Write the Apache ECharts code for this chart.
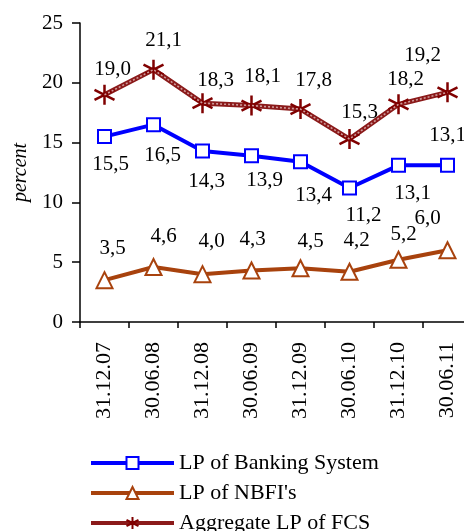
<!DOCTYPE html>
<html>
  <head>
    <meta charset="utf-8" />
    <title>Liquidity ratios</title>
    <script src="https://cdnjs.cloudflare.com/ajax/libs/echarts/6.0.0/echarts.min.js"></script>
  </head>
  <body>
    <style>
      html, body { margin: 0; padding: 0; background: #fff; }
      #main { width: 464px; height: 531px; }
    </style>
    <div id="main"></div>
    <script type="text/javascript">
      // data
      var dates = ['31.12.07', '30.06.08', '31.12.08', '30.06.09', '31.12.09', '30.06.10', '31.12.10', '30.06.11'];
      var banking = [15.5, 16.5, 14.3, 13.9, 13.4, 11.2, 13.1, 13.1];
      var nbfi = [3.5, 4.6, 4.0, 4.3, 4.5, 4.2, 5.2, 6.0];
      var fcs = [19.0, 21.1, 18.3, 18.1, 17.8, 15.3, 18.2, 19.2];
      var yTicks = [0, 5, 10, 15, 20, 25];

      // label offsets (layout only)
      var bankOff = [[6, 28], [9, 31], [4, 31], [13, 25], [13, 34], [14, 27], [14, 28], [0, -30]];
      var nbfiOff = [[8, -32], [10, -30], [9, -33], [1, -31], [10, -27], [7, -31], [5, -25], [-20, -32]];
      var fcsOff = [[8, -25], [10, -29], [13, -23], [11, -29], [13, -29], [10, -27], [7, -25], [-25, -37]];

      var FONT = '"Liberation Serif", "Times New Roman", serif';

      function fmt(p) {
        return p.value.toFixed(1).replace('.', ',');
      }

      function withLabels(values, offs) {
        return values.map(function (v, i) {
          return { value: v, label: { offset: offs[i] } };
        });
      }

      var labelBase = {
        show: true,
        position: 'inside',
        formatter: fmt,
        color: '#000',
        fontFamily: FONT,
        fontSize: 21
      };

      var chart = echarts.init(document.getElementById('main'));
      var option = {
        animation: false,
        backgroundColor: '#fff',
        grid: {
          left: 80, right: -8, top: 23, bottom: 209,
          containLabel: false,
          outerBoundsMode: 'none'
        },
        legend: {
          data: ['LP of Banking System', "LP of NBFI's", 'Aggregate LP of FCS'],
          orient: 'vertical',
          left: 84,
          top: 447,
          height: 90,
          itemWidth: 83,
          itemHeight: 15,
          itemGap: 8,
          lineStyle: { width: 4 },
          textStyle: { color: '#000', fontFamily: FONT, fontSize: 22 }
        },
        xAxis: {
          type: 'category',
          data: dates,
          axisLine: { lineStyle: { color: '#000', width: 1.5 } },
          axisTick: { show: true, length: 6, lineStyle: { color: '#000', width: 1.5 } },
          axisLabel: {
            rotate: 90,
            margin: 20,
            color: '#000',
            fontFamily: FONT,
            fontSize: 22,
            interval: 0
          }
        },
        yAxis: {
          type: 'value',
          min: yTicks[0],
          max: yTicks[yTicks.length - 1],
          interval: 5,
          name: 'percent',
          nameLocation: 'middle',
          nameGap: 48,
          nameTextStyle: { color: '#000', fontFamily: FONT, fontSize: 20, fontStyle: 'italic' },
          splitLine: { show: false },
          axisLine: { show: true, lineStyle: { color: '#000', width: 1.5 } },
          axisTick: { show: true, length: 8, lineStyle: { color: '#000', width: 1.5 } },
          axisLabel: { margin: 17, color: '#000', fontFamily: FONT, fontSize: 21 }
        },
        series: [
          {
            name: 'LP of Banking System',
            type: 'line',
            data: withLabels(banking, bankOff),
            symbol: 'rect',
            symbolSize: 13,
            lineStyle: { color: '#0000ff', width: 4 },
            itemStyle: { color: '#fff', borderColor: '#0000ff', borderWidth: 2 },
            label: labelBase,
            z: 3
          },
          {
            name: "LP of NBFI's",
            type: 'line',
            data: withLabels(nbfi, nbfiOff),
            symbol: 'triangle',
            symbolSize: 16,
            lineStyle: { color: '#a8420d', width: 4 },
            itemStyle: { color: '#fff', borderColor: '#a8420d', borderWidth: 2 },
            label: labelBase,
            z: 3
          },
          {
            name: 'Aggregate LP of FCS',
            type: 'line',
            data: withLabels(fcs, fcsOff),
            symbol: 'path://M0,-10 L0,10 M-8.7,-5 L8.7,5 M-8.7,5 L8.7,-5 M0,-10 L0,10',
            symbolSize: 20,
            lineStyle: { color: '#8b1a1a', width: 5 },
            itemStyle: { color: '#800000', borderColor: '#800000', borderWidth: 2.5 },
            label: labelBase,
            z: 4
          },
          {
            name: 'fcs-hatch',
            type: 'line',
            data: fcs,
            symbol: 'none',
            silent: true,
            lineStyle: { color: '#cf9a9a', width: 1.6, type: [2, 2] },
            z: 5
          }
        ]
      };
      chart.setOption(option);
    </script>
  </body>
</html>
